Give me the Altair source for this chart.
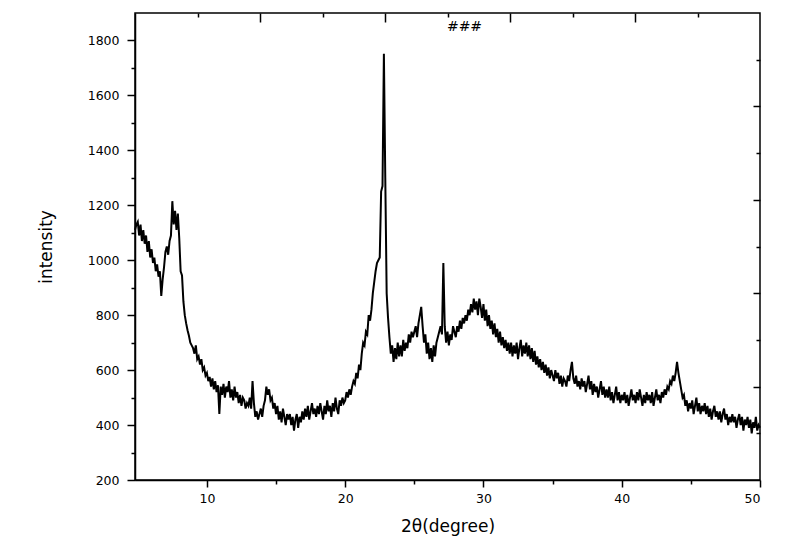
import altair as alt
import pandas as pd

start_angle = 4.8
step = 0.1
intensity = (
    [1110, 1130]
    + [1140, 1090, 1130, 1070, 1110, 1060, 1090, 1030, 1070, 1010]  # 5
    + [1040, 990, 1010, 960, 985, 940, 960, 870, 930, 975]  # 6
    + [1030, 1050, 1020, 1070, 1090, 1215, 1130, 1180, 1110, 1170]  # 7
    + [1080, 960, 945, 850, 800, 770, 745, 725, 700, 690]  # 8
    + [680, 660, 690, 640, 650, 620, 640, 600, 610, 580]  # 9
    + [590, 560, 575, 540, 570, 530, 560, 520, 545, 440]  # 10
    + [540, 510, 550, 500, 540, 520, 560, 500, 530, 490]  # 11
    + [540, 500, 520, 480, 510, 470, 500, 490, 460, 480]  # 12
    + [470, 500, 460, 560, 480, 430, 450, 420, 440, 460]  # 13
    + [430, 470, 490, 540, 510, 530, 490, 500, 460, 480]  # 14
    + [440, 470, 420, 450, 410, 460, 430, 400, 440, 420]  # 15
    + [440, 400, 430, 380, 420, 440, 390, 430, 410, 450]  # 16
    + [420, 460, 430, 470, 420, 450, 480, 440, 460, 430]  # 17
    + [470, 440, 480, 450, 420, 470, 440, 490, 450, 470]  # 18
    + [430, 480, 450, 500, 460, 440, 490, 470, 500, 480]  # 19
    + [490, 520, 500, 530, 510, 540, 560, 550, 590, 570]  # 20
    + [620, 600, 660, 700, 690, 740, 730, 800, 780, 820]  # 21
    + [880, 920, 960, 990, 1000, 1010, 1250, 1270, 1752, 1300]  # 22
    + [880, 790, 720, 660, 690, 630, 680, 640, 700, 650]  # 23
    + [690, 650, 710, 670, 700, 680, 730, 700, 740, 720]  # 24
    + [740, 760, 720, 770, 800, 830, 760, 700, 730, 660]  # 25
    + [700, 640, 680, 630, 690, 650, 700, 720, 740, 760]  # 26
    + [730, 990, 760, 700, 740, 690, 730, 710, 760, 740]  # 27
    + [720, 760, 740, 780, 750, 790, 770, 800, 780, 820]  # 28
    + [800, 840, 810, 860, 820, 850, 800, 860, 830, 790]  # 29
    + [840, 780, 820, 760, 800, 750, 780, 730, 770, 720]  # 30
    + [750, 700, 740, 690, 720, 680, 710, 670, 700, 660]  # 31
    + [700, 650, 690, 660, 700, 640, 680, 710, 650, 690]  # 32
    + [660, 700, 650, 690, 640, 680, 630, 670, 620, 650]  # 33
    + [610, 640, 600, 630, 590, 620, 580, 610, 570, 600]  # 34
    + [580, 560, 600, 570, 590, 550, 580, 540, 570, 560]  # 35
    + [540, 580, 560, 600, 630, 570, 550, 580, 540, 560]  # 36
    + [530, 570, 540, 560, 520, 550, 580, 530, 560, 510]  # 37
    + [550, 520, 540, 500, 530, 560, 510, 540, 500, 530]  # 38
    + [500, 540, 490, 520, 480, 510, 540, 490, 520, 480]  # 39
    + [510, 490, 520, 480, 510, 470, 500, 530, 490, 510]  # 40
    + [480, 520, 490, 530, 500, 470, 510, 480, 520, 490]  # 41
    + [510, 480, 520, 470, 500, 530, 490, 510, 480, 520]  # 42
    + [500, 530, 510, 540, 530, 560, 550, 580, 560, 590]  # 43
    + [630, 590, 560, 530, 500, 510, 470, 490, 450, 480]  # 44
    + [460, 490, 440, 470, 500, 450, 480, 440, 470, 450]  # 45
    + [480, 440, 470, 430, 460, 420, 450, 470, 430, 450]  # 46
    + [420, 450, 410, 440, 460, 420, 440, 400, 430, 410]  # 47
    + [440, 410, 430, 390, 420, 440, 400, 430, 380, 420]  # 48
    + [400, 430, 390, 420, 370, 410, 390, 430, 380, 400]  # 49
    + [390]  # 50
)
angles = [round(start_angle + step * i, 1) for i in range(len(intensity))]

x_domain = [4.8, 50]
y_domain = [200, 1900]
x_major = [10, 20, 30, 40, 50]
x_minor = [15, 25, 35, 45]
y_major = [200, 400, 600, 800, 1000, 1200, 1400, 1600, 1800]
y_minor = [300, 500, 700, 900, 1100, 1300, 1500, 1700]
top_domain = [0, 5]
top_major = [1, 2, 3, 4]
top_minor = [0.5, 1.5, 2.5, 3.5, 4.5]
right_domain = [0, 10]
right_major = [2, 4, 6, 8]
right_minor = [1, 3, 5, 7, 9]

df = pd.DataFrame({"angle": angles, "intensity": intensity})
frame = pd.DataFrame({"bx": x_domain, "by": y_domain, "tx": top_domain, "ry": right_domain})

FONT = "DejaVu Sans"
common_axis = dict(domainColor="black", tickColor="black", tickWidth=1.5, domainWidth=1.5,
                   labelColor="black", grid=False, format="d")

line = alt.Chart(df).mark_line(color="black", strokeWidth=2.0).encode(
    x=alt.X("angle:Q",
            scale=alt.Scale(domain=x_domain, nice=False, zero=False),
            axis=alt.Axis(values=x_major, tickSize=7, labelFont=FONT, labelFontSize=12.5,
                          labelPadding=5, title="2θ(degree)", titleFont=FONT, titleFontSize=17,
                          titleFontWeight="normal", titleColor="black", titlePadding=14,
                          orient="bottom", **common_axis)),
    y=alt.Y("intensity:Q",
            scale=alt.Scale(domain=y_domain, nice=False, zero=False),
            axis=alt.Axis(values=y_major, tickSize=8, labelFont=FONT, labelFontSize=12.5,
                          labelPadding=8, title="intensity", titleFont=FONT, titleFontSize=17,
                          titleFontWeight="normal", titleColor="black", titlePadding=32,
                          orient="left", **common_axis)),
)

minor_bl = alt.Chart(frame).mark_point(opacity=0).encode(
    x=alt.X("bx:Q", scale=alt.Scale(domain=x_domain, nice=False, zero=False),
            axis=alt.Axis(values=x_minor, tickSize=4, labels=False, domain=False, title=None,
                          orient="bottom", tickColor="black", tickWidth=1.5, grid=False)),
    y=alt.Y("by:Q", scale=alt.Scale(domain=y_domain, nice=False, zero=False),
            axis=alt.Axis(values=y_minor, tickSize=4, labels=False, domain=False, title=None,
                          orient="left", tickColor="black", tickWidth=1.5, grid=False)),
)

major_tr = alt.Chart(frame).mark_point(opacity=0).encode(
    x=alt.X("tx:Q", scale=alt.Scale(domain=top_domain, nice=False, zero=False),
            axis=alt.Axis(values=top_major, tickSize=9, offset=-9, labels=False, domain=False,
                          title=None, orient="top", tickColor="black", tickWidth=1.5, grid=False)),
    y=alt.Y("ry:Q", scale=alt.Scale(domain=right_domain, nice=False, zero=False),
            axis=alt.Axis(values=right_major, tickSize=7, offset=-7, labels=False, domain=False,
                          title=None, orient="right", tickColor="black", tickWidth=1.5, grid=False)),
)

minor_tr = alt.Chart(frame).mark_point(opacity=0).encode(
    x=alt.X("tx:Q", scale=alt.Scale(domain=top_domain, nice=False, zero=False),
            axis=alt.Axis(values=top_minor, tickSize=4, offset=-4, labels=False, domain=False,
                          title=None, orient="top", tickColor="black", tickWidth=1.5, grid=False)),
    y=alt.Y("ry:Q", scale=alt.Scale(domain=right_domain, nice=False, zero=False),
            axis=alt.Axis(values=right_minor, tickSize=4, offset=-4, labels=False, domain=False,
                          title=None, orient="right", tickColor="black", tickWidth=1.5, grid=False)),
)

chart = alt.layer(line, minor_bl, major_tr, minor_tr).resolve_scale(
    x="independent", y="independent"
).properties(
    width=625,
    height=467,
    title=alt.TitleParams("###", font=FONT, fontSize=14, fontWeight="normal", color="black",
                          offset=-24, dx=17, anchor="middle"),
    padding={"left": 127, "top": 5, "right": 30, "bottom": 64},
    autosize=alt.AutoSizeParams(type="none"),
).configure_view(stroke="black", strokeWidth=1.5)

chart.save("out.html", embed_options={"renderer": "svg", "actions": False})
